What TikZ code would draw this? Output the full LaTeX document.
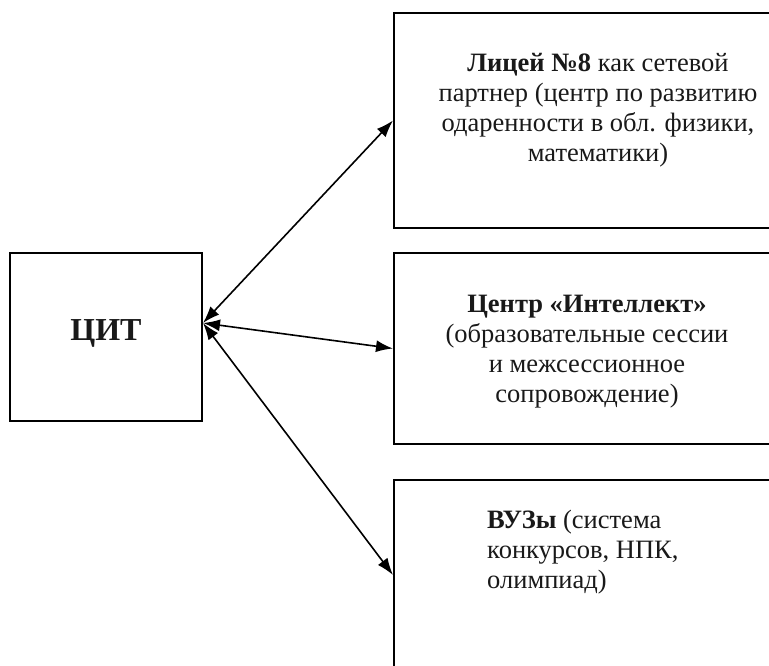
\documentclass[tikz,border=0pt]{standalone}
\usepackage{fontspec}
\setmainfont{Liberation Serif}
\usetikzlibrary{arrows.meta}
\begin{document}
\begin{tikzpicture}[x=1pt,y=-1pt,
  box/.style={draw, line width=2pt, rectangle, inner sep=0pt},
  txt/.style={font=\fontsize{26.5}{30}\selectfont, align=center, inner sep=0pt, text=black!90},
  link/.style={line width=1.6pt, {Latex[length=17pt,width=12pt]}-{Latex[length=17pt,width=12pt]}}]
\clip (0,0) rectangle (769,666);
\node[box, minimum width=192pt, minimum height=168pt] (cit) at (106,337) {};
\node[box, minimum width=408pt, minimum height=215pt] (lyc) at (598,120.5) {};
\node[box, minimum width=408pt, minimum height=191pt] (intel) at (598,348.5) {};
\node[box, minimum width=408pt, minimum height=190pt] (vuz) at (598,575) {};

\node[inner sep=0pt, anchor=base, font=\fontsize{32}{36}\selectfont\bfseries, text=black!90] (citt) at (106,340) {ЦИТ};
\node[txt, anchor=base] (lyct) at (598,162) {\textbf{Лицей №8} как сетевой\\партнер (центр по развитию\\одаренности в обл. физики,\\математики)};
\node[txt, anchor=base] (intelt) at (587,402) {\textbf{Центр «Интеллект»}\\(образовательные сессии\\и межсессионное\\сопровождение)};
\node[txt, align=left, anchor=base west] (vuzt) at (487,588) {\textbf{ВУЗы} (система\\конкурсов, НПК,\\олимпиад)};

\draw[link] ([yshift=14pt]cit.east) -- (lyc.west);
\draw[link] ([yshift=14pt]cit.east) -- (intel.west);
\draw[link] ([yshift=14pt]cit.east) -- (vuz.west);
\end{tikzpicture}
\end{document}
